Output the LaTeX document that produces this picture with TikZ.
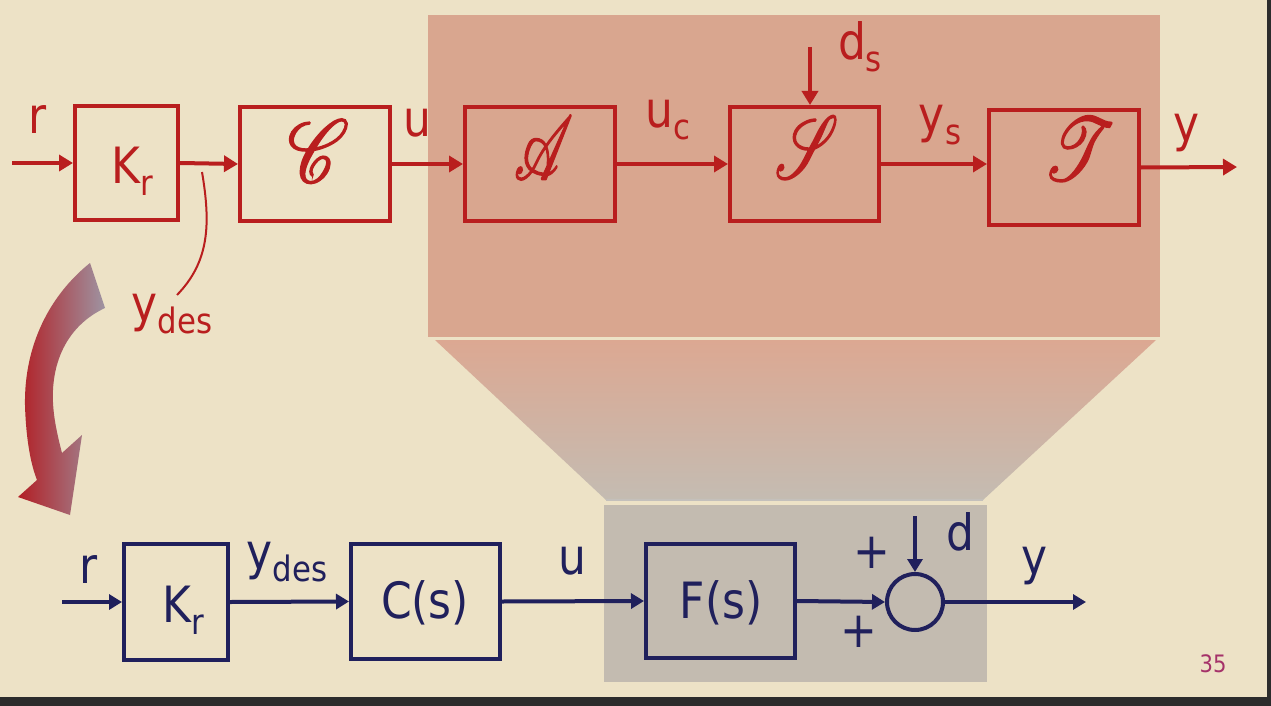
\documentclass[tikz,border=0pt]{standalone}
\usepackage{fontspec}
\setmainfont{DejaVu Sans}[FakeStretch=0.88]
\usetikzlibrary{arrows.meta}
\DeclareFontFamily{U}{myrsfs}{\skewchar\font=127 }
\DeclareFontShape{U}{myrsfs}{m}{n}{<-> rsfs10}{}
\newcommand\scrfont{\fontsize{75}{80}\usefont{U}{myrsfs}{m}{n}}
\newcommand\boldscr[1]{\special{pdf:literal direct 2 Tr 1.3 w}#1\special{pdf:literal direct 0 Tr}}
\definecolor{bg}{RGB}{237,226,198}
\definecolor{darkbar}{RGB}{44,44,44}
\definecolor{myred}{RGB}{185,30,30}
\definecolor{mynavy}{RGB}{32,32,92}
\definecolor{pinkbg}{RGB}{217,166,143}
\definecolor{trtop}{RGB}{220,168,146}
\definecolor{trbot}{RGB}{196,188,178}
\definecolor{graybox}{RGB}{195,187,176}
\definecolor{arrred}{RGB}{178,30,36}
\definecolor{arrgray}{RGB}{158,148,162}
\definecolor{pagenum}{RGB}{165,50,105}
\newcommand\lowsub[1]{\raisebox{-12pt}{\fontsize{35}{35}\selectfont #1}}
\newcommand\bigfont{\fontsize{50}{56}\selectfont}
\begin{document}
\begin{tikzpicture}[x=1pt,y=-1pt,
  rbox/.style={draw=myred, line width=4pt, inner sep=0pt},
  nbox/.style={draw=mynavy, line width=4pt, inner sep=0pt},
  rarr/.style={draw=myred, line width=4pt, -{Triangle[length=14pt,width=16pt]}},
  narr/.style={draw=mynavy, line width=4pt, -{Triangle[length=13pt,width=15pt]}},
  rtxt/.style={text=myred, inner sep=0pt, font=\bigfont},
  ntxt/.style={text=mynavy, inner sep=0pt, font=\bigfont},
  scr/.style={text=myred, inner sep=0pt, font=\scrfont}]
\useasboundingbox (0,0) rectangle (1271,706);
\fill[bg] (0,0) rectangle (1271,706);
\fill[darkbar] (0,697) rectangle (1271,706);
\fill[darkbar] (1267,0) rectangle (1271,706);
% highlight shapes
\fill[pinkbg] (428,15) rectangle (1160,337);
\shade[top color=trtop, bottom color=trbot] (435,340) -- (1156,340) -- (983,500) -- (606,500) -- cycle;
\draw[trbot!80!black!60, line width=1.5pt] (606,500) -- (983,500);
\fill[graybox] (604,505) rectangle (987,682);
% curved arrow
\shade[left color=arrred, right color=arrgray]
  (90,263) .. controls (50,295) and (24,345) .. (25,405)
  .. controls (26,440) and (31,465) .. (37,480)
  -- (18,497) -- (70,515) -- (82,435) -- (62,453)
  .. controls (56,430) and (52,410) .. (53,390)
  .. controls (55,350) and (75,322) .. (105,308) -- cycle;
% top diagram
\node[rbox, minimum width=103pt, minimum height=114pt] (Kr) at (126.5,163) {};
\node[rbox, minimum width=150pt, minimum height=114pt] (C) at (315,164) {};
\node[rbox, minimum width=150pt, minimum height=114pt] (A) at (540,164) {};
\node[rbox, minimum width=149pt, minimum height=114pt] (S) at (804.5,164) {};
\node[rbox, minimum width=150pt, minimum height=115pt] (T) at (1064,167.5) {};
\node[scr] (Cl) at (312,151) {\scalebox{0.98}[1.18]{\boldscr{C}}};
\node[scr] (Al) at (537,148) {\scalebox{0.76}[1.2]{\boldscr{A}}};
\node[scr] (Sl) at (801,147) {\scalebox{0.8}[1.18]{\boldscr{S}}};
\node[scr] (Tl) at (1069,149) {\scalebox{0.92}[1.18]{\boldscr{T}}};
\node[rtxt, anchor=base] (Krl) at (132,183) {K\lowsub{r}};
\coordinate (rin) at (12,163);
\coordinate (ytop) at (1237,167);
\coordinate (dsin) at (810,47);
\draw[rarr] (rin) -- (Kr.west);
\draw[rarr] (Kr.east) -- (C.west);
\draw[rarr] (C.east) -- (A.west);
\draw[rarr] (A.east) -- (S.west);
\draw[rarr] (S.east) -- (S.east -| T.west);
\draw[rarr] (T.east) -- (ytop);
\draw[rarr] (dsin) -- (S.north -| dsin);
\node[rtxt, anchor=base] (rl) at (38,133) {r};
\node[rtxt, anchor=base] (ul) at (417,137) {u};
\node[rtxt, anchor=base] (ucl) at (668,128) {u\lowsub{c}};
\node[rtxt, anchor=base] (dsl) at (860,60) {d\lowsub{s}};
\node[rtxt, anchor=base] (ysl) at (940,132) {y\lowsub{s}};
\node[rtxt, anchor=base] (yl) at (1187,142) {y};
\node[rtxt, anchor=base] (ydesl) at (172,321) {y\lowsub{des}};
\coordinate (ld1) at (202,172);
\coordinate (ld2) at (177,295);
\draw[myred, line width=2pt] (ld1) .. controls (211,225) and (209,262) .. (ld2);
% bottom diagram
\node[nbox, minimum width=104pt, minimum height=116pt] (Kb) at (176,602) {};
\node[nbox, minimum width=149pt, minimum height=115pt] (Cs) at (425.5,601.5) {};
\node[nbox, minimum width=149pt, minimum height=114pt] (Fs) at (720.5,601) {};
\node[draw=mynavy, line width=4pt, circle, minimum size=56pt, inner sep=0pt] (sum) at (915,602) {};
\node[ntxt, anchor=base] (Kbl) at (183,622) {K\lowsub{r}};
\node[ntxt, anchor=base] (Csl) at (425,618) {C(s)};
\node[ntxt, anchor=base] (Fsl) at (721,618) {F(s)};
\coordinate (rbin) at (62,602);
\coordinate (ybot) at (1086,602);
\coordinate (din) at (915,516);
\draw[narr] (rbin) -- (Kb.west);
\draw[narr] (Kb.east) -- (Cs.west);
\draw[narr] (Cs.east) -- (Fs.west);
\draw[narr] (Fs.east) -- (sum.west);
\draw[narr] (sum.east) -- (ybot);
\draw[narr] (din) -- (sum.north);
\node[ntxt, anchor=base] (rbl) at (89,583) {r};
\node[ntxt, anchor=base] (ydbl) at (287,569) {y\lowsub{des}};
\node[ntxt, anchor=base] (ubl) at (572,574) {u};
\node[ntxt, anchor=base] (dbl) at (960,550) {d};
\node[ntxt, anchor=base] (ybl) at (1035,574) {y};
\node[ntxt] (p1) at (872,553) {+};
\node[ntxt] (p2) at (859,632) {+};
\node[text=pagenum, inner sep=0pt, font=\fontsize{24}{26}\selectfont] (pn) at (1213,664) {35};
\end{tikzpicture}
\end{document}
